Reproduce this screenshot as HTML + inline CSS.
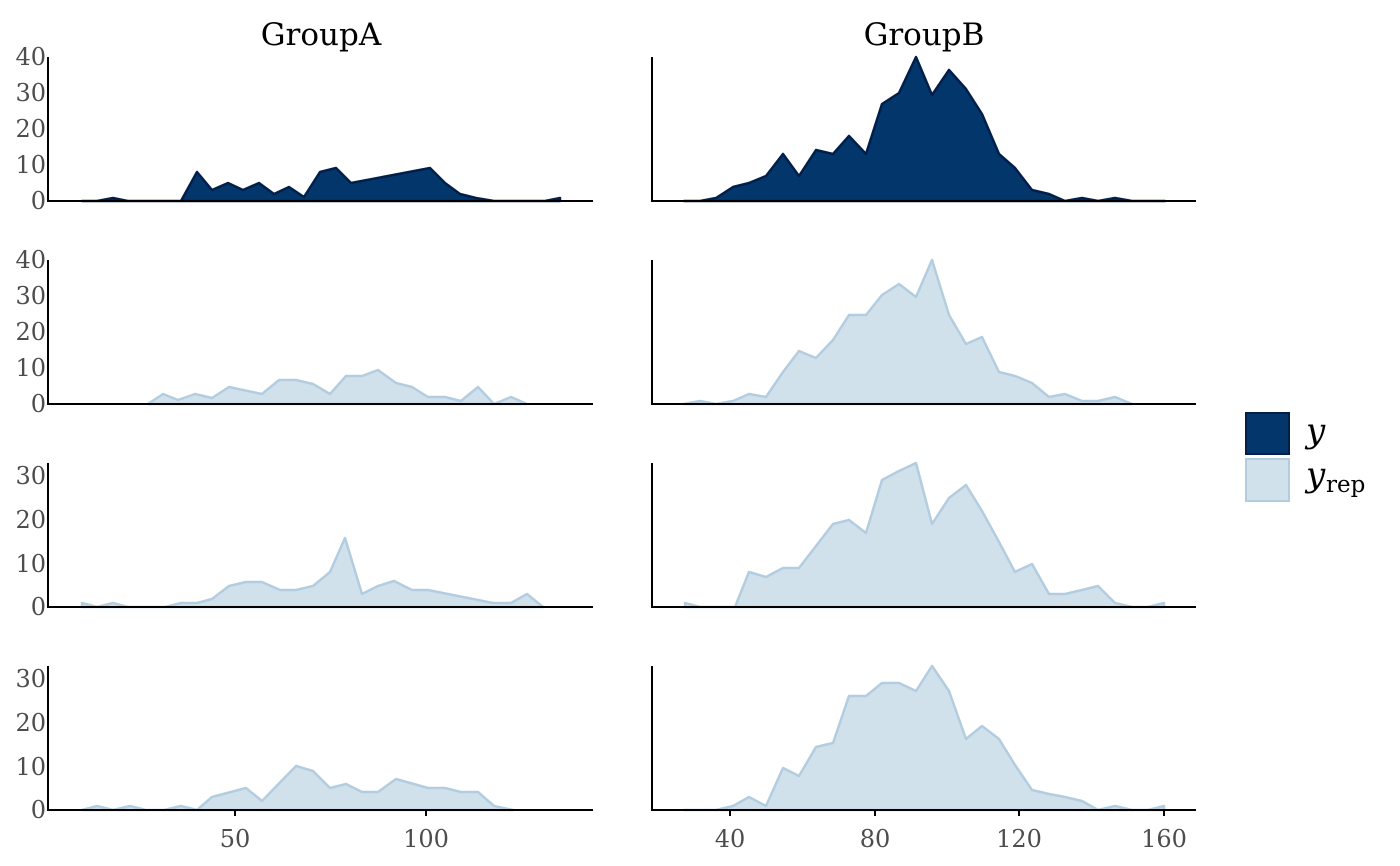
<!DOCTYPE html>
<html><head><meta charset="utf-8"><style>body{margin:0;background:#fff}svg{display:block}</style></head><body>
<svg width="1400" height="866" xmlns="http://www.w3.org/2000/svg" font-family="'DejaVu Serif','Liberation Serif',serif">
<g fill="#03366b" stroke="#011f4b" stroke-width="2.5" stroke-linejoin="round">
<polygon points="82,201 97,201 113,198 128,201 143,201 159,201 181,201 197,172 212,190 228,183 243,190 259,183 274,194 289,187 304,197 320,172 336,168 351,183 430,168 445,183 460,194 476,198 494,201 513,201 545,201 560,198 560,201"/>
<polygon points="684,201 700,201 716,198 733,187 749,183 766,176 783,154 799,176 816,150 833,154 849,136 866,154 882,104 899,93 916,57 932,95 949,70 966,89 982,114 999,154 1015,168 1032,190 1049,194 1065,201 1082,198 1098,201 1115,198 1132,201 1165,201"/>
</g>
<g fill="#d1e1ec" stroke="#b3cde0" stroke-width="2.5" stroke-linejoin="round">
<polygon points="148,404 163,394 178,400 195,394 212,398 229,387 262,394 279,380 296,380 313,384 330,394 346,376 362,376 378,370 396,383 412,387 428,397 445,397 461,401 478,387 494,404 511,397 527,404"/>
<polygon points="82,607 82,603 97,607 113,603 128,607 165,607 181,603 197,603 212,599 229,586 246,582 262,582 280,590 296,590 313,586 330,572 345,538 362,594 378,586 394,581 412,590 428,590 493,603 511,603 527,594 543,607"/>
<polygon points="82,810 97,806 113,810 130,806 146,810 164,810 181,806 197,810 212,797 246,788 262,801 296,766 313,771 330,788 346,784 362,792 378,792 396,779 428,788 445,788 461,792 478,792 494,806 513,810"/>
<polygon points="684,404 700,401 716,404 733,401 749,394 766,397 783,372 799,351 816,358 833,340 849,315 866,315 882,295 899,284 916,297 932,260 949,315 966,344 982,337 999,372 1015,376 1032,383 1049,397 1065,394 1082,401 1098,401 1115,397 1132,404"/>
<polygon points="685,607 685,603 700,607 735,607 749,572 766,577 783,568 799,568 816,546 833,524 849,520 866,533 882,480 899,471 916,463 932,524 949,498 966,485 982,511 999,542 1015,572 1032,564 1049,594 1065,594 1082,590 1098,586 1115,603 1132,607 1148,607 1164,603 1164,607"/>
<polygon points="684,810 716,810 733,806 749,797 766,806 783,768 799,776 816,747 833,743 849,696 866,696 882,683 899,683 916,691 932,666 949,691 966,739 982,726 999,739 1015,765 1032,790 1049,794 1065,797 1082,801 1098,810 1115,806 1132,810 1148,810 1164,806 1164,810"/>
</g>
<g stroke="#000" stroke-width="2" fill="none">
<path d="M48,57V201H593M48,260V404H593M48,463V607H593M48,666V810H593"/>
<path d="M652,57V201H1196M652,260V404H1196M652,463V607H1196M652,666V810H1196"/>
<path d="M235,810v6M426,810v6M730,810v6M875,810v6M1019,810v6M1164,810v6"/>
</g>
<g font-size="24" fill="#4d4d4d" text-anchor="end">
<text x="46" y="209">0</text><text x="46" y="173">10</text><text x="46" y="137">20</text><text x="46" y="101">30</text><text x="46" y="65">40</text>
<text x="46" y="412">0</text><text x="46" y="376">10</text><text x="46" y="340">20</text><text x="46" y="304">30</text><text x="46" y="268">40</text>
<text x="46" y="615">0</text><text x="46" y="572">10</text><text x="46" y="528">20</text><text x="46" y="484">30</text>
<text x="46" y="818">0</text><text x="46" y="775">10</text><text x="46" y="731">20</text><text x="46" y="687">30</text>
</g>
<g font-size="24" fill="#4d4d4d" text-anchor="middle">
<text x="235" y="847">50</text><text x="426" y="847">100</text><text x="730" y="847">40</text><text x="875" y="847">80</text><text x="1019" y="847">120</text><text x="1164" y="847">160</text>
</g>
<g font-size="31" fill="#000" text-anchor="middle"><text x="321" y="45">GroupA</text><text x="924" y="45">GroupB</text></g>
<rect x="1246" y="413" width="43" height="41" fill="#03366b" stroke="#011f4b" stroke-width="2"/>
<rect x="1246" y="459" width="43" height="42" fill="#d1e1ec" stroke="#b3cde0" stroke-width="2"/>
<text x="1306" y="442" font-size="34" font-style="italic">y</text>
<text x="1306" y="486" font-size="34" font-style="italic">y</text>
<text x="1326" y="492" font-size="23">rep</text>
</svg>
</body></html>
